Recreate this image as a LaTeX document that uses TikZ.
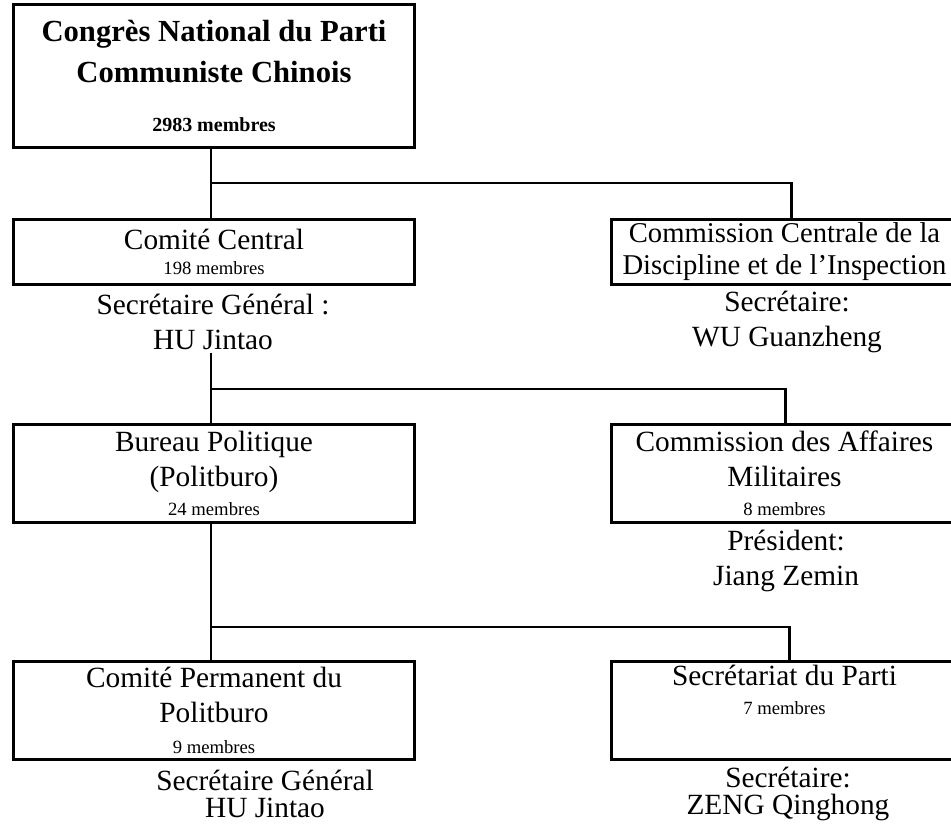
\documentclass[tikz,border=0pt]{standalone}
\usepackage{fontspec}
\setmainfont{Liberation Serif}
\usetikzlibrary{positioning}
\tikzset{
  orgbox/.style={draw,line width=2.4pt,align=center,inner sep=2pt,font=\fontsize{22}{26}\selectfont},
  wideorg/.style={orgbox,minimum width=301pt},
  sideorg/.style={orgbox,minimum width=260pt},
  headnote/.style={align=center,inner sep=2pt,font=\fontsize{22}{26}\selectfont},
  orglink/.style={line width=2.2pt},
}
\newcommand{\mbr}[1]{{\fontsize{14}{16}\selectfont #1}}
\begin{document}
\begin{tikzpicture}[x=0.75pt,y=-0.75pt]
  \useasboundingbox (0,0) rectangle (951,832);
  % congress and its two committees
  \node[wideorg,minimum height=107pt,font=\bfseries\fontsize{23}{28}\selectfont] (ccp) at (214,76) {Congrès National du Parti\\[3pt]Communiste Chinois\\[9pt]{\fontsize{15}{18}\selectfont 2983 membres}};
  \node[wideorg,minimum height=49pt] (cc) at (214,252) {Comité Central\\[-7pt]\mbr{198 membres}};
  \node[sideorg,minimum height=49pt,font=\fontsize{21.5}{24}\selectfont] (ccdi) at (784.5,252) {Commission Centrale de la\\Discipline et de l'Inspection};
  \node[headnote] (cclead) at (213,322) {Secrétaire Général :\\HU Jintao};
  \node[headnote] (ccdilead) at (787,322) {Secrétaire:\\WU Guanzheng};
  \coordinate (fork1) at (211,183);
  \draw[orglink] (ccp.south -| fork1) -- (cc.north -| fork1) (fork1) -| ([xshift=5pt]ccdi.north);
  % politburo level
  \node[wideorg,minimum height=74pt] (bp) at (214,473.5) {Bureau Politique\\(Politburo)\\[-4pt]\mbr{24 membres}};
  \node[sideorg,minimum height=74pt] (cmc) at (784.5,473.5) {Commission des Affaires\\Militaires\\[-4pt]\mbr{8 membres}};
  \node[headnote] (cmclead) at (786,561) {Président:\\Jiang Zemin};
  \coordinate (fork2) at (211,389);
  \draw[orglink] (cclead.south -| fork2) -- (bp.north -| fork2) (fork2) -| ([xshift=1pt]cmc.north);
  % standing committee and secretariat
  \node[wideorg,minimum height=74pt] (cpb) at (214,710.5) {Comité Permanent du\\Politburo\\[-3pt]\mbr{9 membres}};
  \node[sideorg,minimum height=74pt] (sec) at (784.5,710.5) {};
  \node[headnote,below=2pt of sec.north] (sectxt) {Secrétariat du Parti\\[-4pt]\mbr{7 membres}};
  \node[headnote] (cpblead) at (265,794) {Secrétaire Général\\[-6pt]HU Jintao};
  \node[headnote] (seclead) at (788,794) {Secrétaire:\\[-6pt]ZENG Qinghong};
  \coordinate (fork3) at (211,627);
  \draw[orglink] (bp.south -| fork3) -- (cpb.north -| fork3) (fork3) -| ([xshift=4pt]sec.north);
\end{tikzpicture}
\end{document}
